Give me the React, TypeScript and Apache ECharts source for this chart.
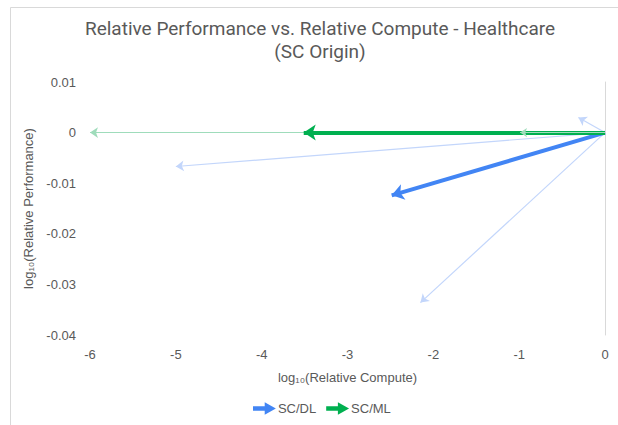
import React, { useEffect, useRef } from "react";
import * as echarts from "echarts";

const xTicks = [-6, -5, -4, -3, -2, -1, 0];
const yTicks = [0.01, 0, -0.01, -0.02, -0.03, -0.04];

// arrow end points (start at SC origin 0,0)
const dlMain: [number, number] = [-2.485, -0.0124];
const mlMain: [number, number] = [-3.51, 0];
const dlOthers: [number, number][] = [
  [-5.0, -0.0067],
  [-2.15, -0.0336],
  [-0.31, 0.003],
];
const mlOthers: [number, number][] = [
  [-6.0, 0],
  [-0.99, 0],
];

const BLUE = "#4285f4";
const GREEN = "#00b050";
const BLUE_LIGHT = "#c3d6fb";
const GREEN_LIGHT = "#9fdcbb";
const TEXT = "#595959";
const FONT = "'Liberation Sans', Arial, sans-serif";
const ARROW_ICON = "path://M0,3.5 L13,3.5 L13,0 L22,5 L13,10 L13,6.5 L0,6.5 Z";

export default function App() {
  const ref = useRef<HTMLDivElement>(null);
  useEffect(() => {
    if (!ref.current) return;
    const chart = echarts.init(ref.current, null, { renderer: "svg" });
    const mk = (pts: [number, number][]) => pts.map((p) => ({ coords: [[0, 0], p] }));
    chart.setOption({
      animation: false,
      backgroundColor: "#ffffff",
      title: {
        text: "Relative Performance vs. Relative Compute - Healthcare\n(SC Origin)",
        left: 315,
        top: 12,
        textAlign: "center",
        textStyle: {
          fontFamily: "'Liberation Sans Narrow', 'Arial Narrow', Roboto, sans-serif",
          fontSize: 19,
          fontWeight: "normal",
          color: TEXT,
          lineHeight: 23,
        },
      },
      graphic: [
        {
          type: "rect",
          shape: { x: 10.5, y: 7.5, width: 800, height: 600 },
          style: { fill: "none", stroke: "#d9d9d9", lineWidth: 1 },
          silent: true,
        },
      ],
      legend: {
        left: 253,
        top: 402,
        padding: 0,
        itemWidth: 22,
        itemHeight: 9,
        itemGap: 10,
        data: [
          { name: "SC/DL", icon: ARROW_ICON, itemStyle: { color: BLUE } },
          { name: "SC/ML", icon: ARROW_ICON, itemStyle: { color: GREEN } },
        ],
        textStyle: { fontFamily: FONT, fontSize: 13, color: TEXT, padding: [0, 0, 0, -2] },
      },
      grid: { left: 90, right: 13, top: 82, bottom: 90, containLabel: false },
      xAxis: {
        type: "value",
        min: -6,
        max: 0,
        interval: 1,
        name: "log₁₀(Relative Compute)",
        nameLocation: "middle",
        nameGap: 36,
        nameTextStyle: { fontFamily: FONT, fontSize: 13, color: TEXT },
        axisLine: { show: false },
        axisTick: { show: false },
        splitLine: { show: false },
        axisLabel: {
          fontFamily: FONT,
          fontSize: 13,
          color: TEXT,
          margin: 13,
          formatter: (v: number) => String(Math.round(v)),
        },
      },
      yAxis: [
        {
          type: "value",
          min: -0.04,
          max: 0.01,
          interval: 0.01,
          name: "log₁₀(Relative Performance)",
          nameLocation: "middle",
          nameGap: 50,
          nameTextStyle: { fontFamily: FONT, fontSize: 13, color: TEXT },
          axisLine: { show: false },
          axisTick: { show: false },
          splitLine: { show: false },
          axisLabel: {
            fontFamily: FONT,
            fontSize: 13,
            color: TEXT,
            margin: 14,
            formatter: (v: number) => {
              const r = Math.round(v * 100) / 100;
              return r === 0 ? "0" : r.toFixed(2);
            },
          },
        },
        {
          type: "value",
          position: "right",
          min: -0.04,
          max: 0.01,
          interval: 0.01,
          axisLine: { show: true, lineStyle: { color: "#d9d9d9", width: 1 } },
          axisTick: { show: false },
          axisLabel: { show: false },
          splitLine: { show: false },
        },
      ],
      series: [
        {
          name: "mlThin",
          type: "lines",
          coordinateSystem: "cartesian2d",
          z: 2,
          symbol: ["none", "arrow"],
          symbolSize: 8,
          lineStyle: { color: GREEN_LIGHT, width: 1.2, opacity: 1, curveness: 0 },
          data: mk([mlOthers[0]]),
        },
        {
          name: "dlThin",
          type: "lines",
          coordinateSystem: "cartesian2d",
          z: 2,
          symbol: ["none", "arrow"],
          symbolSize: 8,
          lineStyle: { color: BLUE_LIGHT, width: 1.2, opacity: 1, curveness: 0 },
          data: mk(dlOthers),
        },
        {
          name: "SC/DL",
          type: "lines",
          coordinateSystem: "cartesian2d",
          z: 3,
          symbol: ["none", "arrow"],
          symbolSize: 12,
          itemStyle: { color: BLUE },
          lineStyle: { color: BLUE, width: 4, opacity: 1, curveness: 0 },
          data: mk([dlMain]),
        },
        {
          name: "SC/ML",
          type: "lines",
          coordinateSystem: "cartesian2d",
          z: 3,
          symbol: ["none", "arrow"],
          symbolSize: 12,
          itemStyle: { color: GREEN },
          lineStyle: { color: GREEN, width: 4, opacity: 1, curveness: 0 },
          data: mk([mlMain]),
        },
        {
          name: "mlThin2",
          type: "lines",
          coordinateSystem: "cartesian2d",
          z: 4,
          symbol: ["none", "arrow"],
          symbolSize: 7,
          lineStyle: { color: GREEN_LIGHT, width: 1, opacity: 1, curveness: 0 },
          data: mk([mlOthers[1]]),
        },
      ],
    });
    return () => chart.dispose();
  }, []);
  return (
    <div
      ref={ref}
      style={{ position: "fixed", left: 0, top: 0, width: 618, height: 425, background: "#fff" }}
    />
  );
}
